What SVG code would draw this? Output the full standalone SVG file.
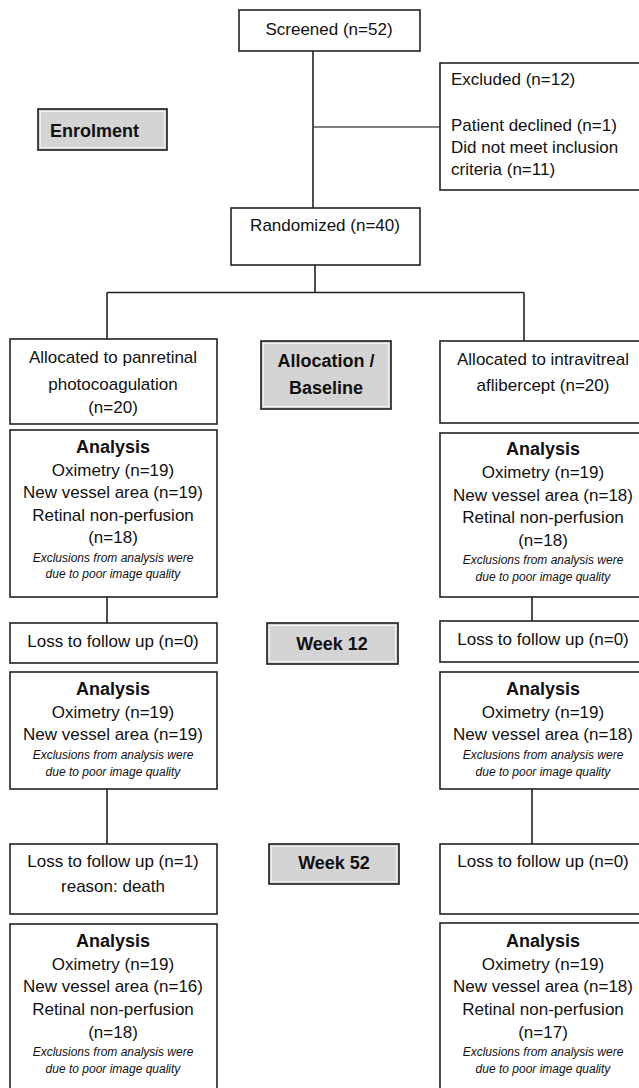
<svg xmlns="http://www.w3.org/2000/svg" width="639" height="1088" viewBox="0 0 639 1088">
<style>
.box{fill:#fff;stroke:#222;stroke-width:1.6}
.lbl{fill:#d4d4d4;stroke:#1a1a1a;stroke-width:1.6}
.lblin{fill:none;stroke:#f2f2f2;stroke-width:1}
.t{font-family:"Liberation Sans",Arial,sans-serif;font-size:17px;fill:#111}
.c{text-anchor:middle}
.b{font-weight:bold;font-size:18px}
.i{font-style:italic;font-size:12px}
.ln{stroke:#222;stroke-width:1.6;fill:none}
.ln2{stroke:#555;stroke-width:1.3;fill:none}
</style>
<rect width="639" height="1088" fill="#fff"/>
<g id="connectors">
<path class="ln" d="M313 51V208"/>
<path class="ln2" d="M313 127H440"/>
<path class="ln" d="M315 265V292.5"/>
<path class="ln" d="M107 292.5H524"/>
<path class="ln" d="M107 292.5V339"/>
<path class="ln" d="M524 292.5V341"/>
<path class="ln" d="M107 597V623"/>
<path class="ln" d="M107 789V844"/>
<path class="ln" d="M532 597V621"/>
<path class="ln" d="M532 789V844"/>
</g>
<g id="screened"><rect class="box" x="239" y="10" width="181" height="41"/><text class="t c" x="329" y="35">Screened (n=52)</text></g>
<g id="excluded"><rect class="box" x="440" y="63" width="210" height="127"/>
<text class="t" x="451" y="85">Excluded (n=12)</text>
<text class="t" x="451" y="131">Patient declined (n=1)</text>
<text class="t" x="451" y="153">Did not meet inclusion</text>
<text class="t" x="451" y="175">criteria (n=11)</text></g>
<g id="enrolment"><rect class="lbl" x="38" y="109" width="129" height="41"/><rect class="lblin" x="40.5" y="111.5" width="124" height="36"/><text class="t b" x="50" y="137">Enrolment</text></g>
<g id="randomized"><rect class="box" x="231" y="208" width="189" height="57"/><text class="t c" x="325" y="231">Randomized (n=40)</text></g>
<g id="allocation"><rect class="lbl" x="261" y="341" width="130" height="68"/><rect class="lblin" x="263.5" y="343.5" width="125" height="63"/><text class="t b c" x="326" y="367">Allocation /</text><text class="t b c" x="326" y="394">Baseline</text></g>
<g id="alloc-prp"><rect class="box" x="10" y="339" width="207" height="85"/>
<text class="t c" x="113" y="363">Allocated to panretinal</text>
<text class="t c" x="113" y="390">photocoagulation</text>
<text class="t c" x="113" y="413">(n=20)</text></g>
<g id="alloc-afl"><rect class="box" x="440" y="341" width="210" height="82"/>
<text class="t c" x="543" y="365">Allocated to intravitreal</text>
<text class="t c" x="543" y="391">aflibercept (n=20)</text></g>
<g id="analysis-prp-0"><rect class="box" x="10" y="430" width="207" height="167"/>
<text class="t b c" x="113" y="453">Analysis</text>
<text class="t c" x="113" y="476">Oximetry (n=19)</text>
<text class="t c" x="113" y="498">New vessel area (n=19)</text>
<text class="t c" x="113" y="521">Retinal non-perfusion</text>
<text class="t c" x="113" y="543">(n=18)</text>
<text class="t i c" x="113" y="562">Exclusions from analysis were</text>
<text class="t i c" x="113" y="578">due to poor image quality</text></g>
<g id="analysis-afl-0"><rect class="box" x="440" y="433" width="210" height="164"/>
<text class="t b c" x="543" y="455">Analysis</text>
<text class="t c" x="543" y="478">Oximetry (n=19)</text>
<text class="t c" x="543" y="501">New vessel area (n=18)</text>
<text class="t c" x="543" y="523">Retinal non-perfusion</text>
<text class="t c" x="543" y="546">(n=18)</text>
<text class="t i c" x="543" y="564">Exclusions from analysis were</text>
<text class="t i c" x="543" y="581">due to poor image quality</text></g>
<g id="loss-prp-12"><rect class="box" x="10" y="623" width="207" height="40"/><text class="t c" x="113" y="647">Loss to follow up (n=0)</text></g>
<g id="week12"><rect class="lbl" x="267" y="623" width="131" height="41"/><rect class="lblin" x="269.5" y="625.5" width="126" height="36"/><text class="t b c" x="332" y="650">Week 12</text></g>
<g id="loss-afl-12"><rect class="box" x="440" y="621" width="210" height="41"/><text class="t c" x="543" y="645">Loss to follow up (n=0)</text></g>
<g id="analysis-prp-12"><rect class="box" x="10" y="672" width="207" height="117"/>
<text class="t b c" x="113" y="695">Analysis</text>
<text class="t c" x="113" y="718">Oximetry (n=19)</text>
<text class="t c" x="113" y="740">New vessel area (n=19)</text>
<text class="t i c" x="113" y="759">Exclusions from analysis were</text>
<text class="t i c" x="113" y="776">due to poor image quality</text></g>
<g id="analysis-afl-12"><rect class="box" x="440" y="672" width="210" height="117"/>
<text class="t b c" x="543" y="695">Analysis</text>
<text class="t c" x="543" y="718">Oximetry (n=19)</text>
<text class="t c" x="543" y="740">New vessel area (n=18)</text>
<text class="t i c" x="543" y="759">Exclusions from analysis were</text>
<text class="t i c" x="543" y="776">due to poor image quality</text></g>
<g id="loss-prp-52"><rect class="box" x="10" y="844" width="207" height="70"/>
<text class="t c" x="113" y="867">Loss to follow up (n=1)</text>
<text class="t c" x="113" y="892">reason: death</text></g>
<g id="week52"><rect class="lbl" x="269" y="844" width="130" height="40"/><rect class="lblin" x="271.5" y="846.5" width="125" height="35"/><text class="t b c" x="334" y="869">Week 52</text></g>
<g id="loss-afl-52"><rect class="box" x="440" y="844" width="210" height="70"/><text class="t c" x="543" y="867">Loss to follow up (n=0)</text></g>
<g id="analysis-prp-52"><rect class="box" x="10" y="924" width="207" height="175"/>
<text class="t b c" x="113" y="947">Analysis</text>
<text class="t c" x="113" y="970">Oximetry (n=19)</text>
<text class="t c" x="113" y="992">New vessel area (n=16)</text>
<text class="t c" x="113" y="1015">Retinal non-perfusion</text>
<text class="t c" x="113" y="1038">(n=18)</text>
<text class="t i c" x="113" y="1056">Exclusions from analysis were</text>
<text class="t i c" x="113" y="1073">due to poor image quality</text></g>
<g id="analysis-afl-52"><rect class="box" x="440" y="923" width="210" height="176"/>
<text class="t b c" x="543" y="947">Analysis</text>
<text class="t c" x="543" y="970">Oximetry (n=19)</text>
<text class="t c" x="543" y="992">New vessel area (n=18)</text>
<text class="t c" x="543" y="1015">Retinal non-perfusion</text>
<text class="t c" x="543" y="1038">(n=17)</text>
<text class="t i c" x="543" y="1056">Exclusions from analysis were</text>
<text class="t i c" x="543" y="1073">due to poor image quality</text></g>
</svg>
